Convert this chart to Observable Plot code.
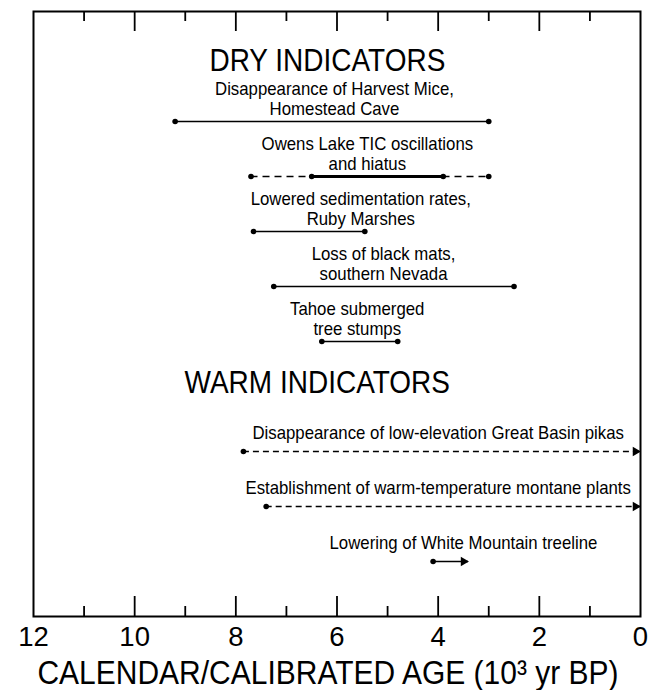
<!DOCTYPE html>
<html>
<head>
<meta charset="utf-8">
<script src="https://cdn.jsdelivr.net/npm/d3@7"></script>
<script src="https://cdn.jsdelivr.net/npm/@observablehq/plot@0.6"></script>
<style>
  html, body { margin: 0; padding: 0; background: #fff; }
  svg { display: block; }
</style>
</head>
<body>
<div id="chart"></div>
<script>
// ---- data (ages in 10^3 cal yr BP) ----
const headings = ["DRY INDICATORS", "WARM INDICATORS"];
const headingRow = [-1.1, 4.76];
const headingAge = [6.19, 6.39];

const dryLabels = [
  "Disappearance of Harvest Mice,\nHomestead Cave",
  "Owens Lake TIC oscillations\nand hiatus",
  "Lowered sedimentation rates,\nRuby Marshes",
  "Loss of black mats,\nsouthern Nevada",
  "Tahoe submerged\ntree stumps"
];
const dryRow = [0, 1, 2, 3, 4];
const dryOlder = [9.2, 7.7, 7.65, 7.25, 6.3];
const dryYounger = [3.0, 3.0, 5.45, 2.5, 4.8];
const dryLabelAge = [6.05, 5.4, 5.53, 5.08, 5.6];
const owensCore = [6.5, 3.9]; // solid part of the Owens Lake record

const warmLabels = [
  "Disappearance of low-elevation Great Basin pikas",
  "Establishment of warm-temperature montane plants",
  "Lowering of White Mountain treeline"
];
const warmRow = [6, 7, 8];
const warmOlder = [7.85, 7.4, 4.1];
const warmYounger = [0, 0, 3.4];
const warmLabelAge = [4.0, 4.0, 3.5];

const majorTicks = [10, 8, 6, 4, 2];
const minorTicks = [11, 9, 7, 5, 3, 1];
const tickLabels = [12, 10, 8, 6, 4, 2, 0];
const axisTitle = "CALENDAR/CALIBRATED AGE (10³ yr BP)";

// ---- derived tables ----
const dry = dryLabels.map((label, i) => ({label, row: dryRow[i], older: dryOlder[i], younger: dryYounger[i], lx: dryLabelAge[i], dashed: i === 1}));
const warm = warmLabels.map((label, i) => ({label, row: warmRow[i], older: warmOlder[i], younger: warmYounger[i], lx: warmLabelAge[i], dashed: i < 2}));
const heads = headings.map((t, i) => ({t, row: headingRow[i], x: headingAge[i]}));
const dryDots = dry.flatMap(d => [{x: d.older, y: d.row}, {x: d.younger, y: d.row}])
  .concat(owensCore.map(v => ({x: v, y: dryRow[1]})));
const warmDots = warm.map(d => ({x: d.older, y: d.row}));

const font = "'Liberation Sans', Arial, Helvetica, sans-serif";
const frameH = 605;

const chart = Plot.plot({
  width: 660,
  height: 690,
  marginLeft: 33,
  marginRight: 20,
  marginTop: 11,
  marginBottom: 74,
  style: {fontFamily: font, background: "#fff", color: "#000"},
  x: {domain: [12, 0], axis: null},
  y: {domain: [9, -2], axis: null},
  marks: [
    // inward ticks, bottom and top
    Plot.tickX(majorTicks, {x: d => d, insetTop: frameH - 20, stroke: "#000", strokeWidth: 1.8}),
    Plot.tickX(minorTicks, {x: d => d, insetTop: frameH - 10, stroke: "#000", strokeWidth: 1.8}),
    Plot.tickX(majorTicks, {x: d => d, insetBottom: frameH - 20, stroke: "#000", strokeWidth: 1.8}),
    Plot.tickX(minorTicks, {x: d => d, insetBottom: frameH - 10, stroke: "#000", strokeWidth: 1.8}),
    Plot.frame({stroke: "#000", strokeWidth: 2}),
    Plot.axisX(tickLabels, {anchor: "bottom", tickSize: 0, tickPadding: 10, fontSize: 27.5, tickFormat: d => String(d), label: null}),
    Plot.text([axisTitle], {frameAnchor: "bottom", dy: 67, dx: -9, fontSize: 30, text: d => d, fill: "#000", ariaLabel: "axis-title"}),

    // headings
    Plot.text(heads, {x: "x", y: "row", text: "t", fontSize: 28, lineAnchor: "middle", fill: "#000"}),

    // dry indicator bars
    Plot.ruleY(dry.filter(d => !d.dashed), {y: "row", x1: "older", x2: "younger", stroke: "#000", strokeWidth: 1.5}),
    Plot.ruleY(dry.filter(d => d.dashed), {y: "row", x1: "older", x2: "younger", stroke: "#000", strokeWidth: 1.5, strokeDasharray: "7,5"}),
    Plot.ruleY([{row: dryRow[1], a: owensCore[0], b: owensCore[1]}], {y: "row", x1: "a", x2: "b", stroke: "#000", strokeWidth: 3}),
    Plot.dot(dryDots, {x: "x", y: "y", r: 2.8, fill: "#000", stroke: null}),
    Plot.text(dry, {x: "lx", y: "row", text: "label", fontSize: 16.8, lineAnchor: "bottom", lineHeight: 1.05, dy: -7, fill: "#000"}),

    // warm indicator bars
    Plot.ruleY(warm.filter(d => d.dashed), {y: "row", x1: "older", x2: "younger", stroke: "#000", strokeWidth: 1.5, strokeDasharray: "6,4"}),
    Plot.ruleY(warm.filter(d => !d.dashed), {y: "row", x1: "older", x2: "younger", stroke: "#000", strokeWidth: 1.5}),
    Plot.dot(warmDots, {x: "x", y: "y", r: 2.8, fill: "#000", stroke: null}),
    Plot.dot(warm, {x: "younger", y: "row", symbol: "triangle", r: 3.5, rotate: 90, dx: -5, fill: "#000", stroke: null}),
    Plot.text(warm, {x: "lx", y: "row", text: "label", fontSize: 16.8, lineAnchor: "bottom", dy: -13, fill: "#000"})
  ]
});
// the source lettering of the in-plot labels is slightly taller than Arial at the same width
d3.select(chart).selectAll("g[aria-label='text'] text").each(function () {
  const t = this.getAttribute("transform") || "";
  this.setAttribute("transform", t + " scale(1,1.12)");
});
document.getElementById("chart").appendChild(chart);
</script>
</body>
</html>
